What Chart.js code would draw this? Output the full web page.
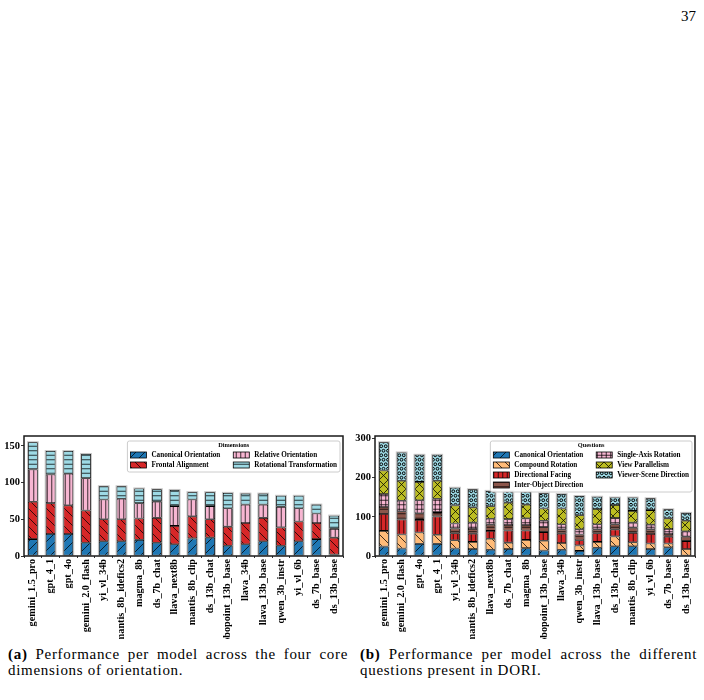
<!DOCTYPE html>
<html><head><meta charset="utf-8">
<script src="https://cdn.jsdelivr.net/npm/chart.js@4.4.1/dist/chart.umd.min.js"></script>
<style>
html,body{margin:0;padding:0;background:#fff;width:704px;height:700px;overflow:hidden;position:relative;}
#pg{position:absolute;left:681px;top:7px;font:15px 'Liberation Serif',serif;line-height:18px;color:#000;}
.wrap{position:absolute;}
.cap{position:absolute;font:15px 'Liberation Serif',serif;letter-spacing:0.7px;line-height:16px;color:#000;}
.cap .l1{text-align:justify;text-align-last:justify;}
</style></head>
<body>
<div id="pg">37</div>
<div class="wrap" style="left:0;top:426px;width:350px;height:213px"><canvas id="ca"></canvas></div>
<div class="wrap" style="left:352px;top:426px;width:350px;height:213px"><canvas id="cb"></canvas></div>
<div class="cap" style="left:8px;top:646px;width:340px"><div class="l1"><b>(a)</b> Performance per model across the four core</div><div>dimensions of orientation.</div></div>
<div class="cap" style="left:360px;top:646px;width:337px"><div class="l1"><b>(b)</b> Performance per model across the different</div><div>questions present in DORI.</div></div>
<script>
// ---------- data: chart (a) ----------
const modelsA = ['gemini_1.5_pro','gpt_4_1','gpt_4o','gemini_2.0_flash','yi_vl_34b','mantis_8b_idefics2','magma_8b','ds_7b_chat','llava_next8b','mantis_8b_clip','ds_13b_chat','robopoint_13b_base','llava_34b','llava_13b_base','qwen_3b_instr','yi_vl_6b','ds_7b_base','ds_13b_base'];
const canonicalA  = [23,30,30,18,20,20,22,18,16,24,25,14,16,20,14,20,23,2];
const frontalA    = [51,42,39,44,30,30,29,34,25,30,25,26,29,32,25,27,22,23];
const relativeA   = [44,39,43,44,27,28,21,22,27,23,18,25,25,18,28,18,13,12];
const rotationalA = [37,32,31,33,18,17,20,17,22,10,19,21,15,15,15,17,12,18];
const seriesNamesA = ['Canonical Orientation','Frontal Alignment','Relative Orientation','Rotational Transformation'];
const yTicksA = [0,50,100,150];

// ---------- data: chart (b) ----------
const modelsB = ['gemini_1.5_pro','gemini_2.0_flash','gpt_4o','gpt_4_1','yi_vl_34b','mantis_8b_idefics2','llava_next8b','ds_7b_chat','magma_8b','robopoint_13b_base','llava_34b','qwen_3b_instr','llava_13b_base','ds_13b_chat','mantis_8b_clip','yi_vl_6b','ds_7b_base','ds_13b_base'];
const canonicalB    = [24,19,31,31,19,18,16,18,20,14,16,13,21,25,25,18,22,1];
const compoundB     = [40,36,29,23,21,18,28,16,21,25,17,14,15,25,10,14,10,17];
const directionalB  = [43,38,32,47,18,21,20,31,24,22,24,13,22,18,24,24,17,20];
const interObjectB  = [18,21,17,11,12,12,16,14,14,13,11,15,10,13,13,12,7,11];
const singleAxisB   = [33,27,33,34,13,16,15,15,17,16,13,13,13,16,13,12,13,14];
const viewParB      = [60,51,47,46,46,39,32,42,35,31,40,36,39,33,30,37,27,27];
const viewerSceneB  = [72,72,69,66,45,46,39,30,33,39,37,49,31,19,34,30,23,20];
const seriesNamesB = ['Canonical Orientation','Compound Rotation','Directional Facing','Inter-Object Direction','Single-Axis Rotation','View Parallelism','Viewer-Scene Direction'];
const yTicksB = [0,100,200,300];

// ---------- styling ----------
const FONT = "'Liberation Serif','Times New Roman',serif";
function hatch(color, kind){
  const s = 9;
  const c = document.createElement('canvas'); c.width = s; c.height = s;
  const g = c.getContext('2d');
  g.fillStyle = color; g.fillRect(0,0,s,s);
  g.strokeStyle = 'rgba(0,0,0,0.95)'; g.lineWidth = 0.8;
  g.beginPath();
  const n = ch => kind.split(ch).length - 1;
  const nf = n('/') + n('x'), nb = n('\\') + n('x'), nv = n('|') + n('+'), nh = n('-') + n('+');
  for (let j=0;j<nf;j++) for (let k=-1;k<=1;k++){ const o=k*s+j*s/nf; g.moveTo(o,s); g.lineTo(o+s,0); }
  for (let j=0;j<nb;j++) for (let k=-1;k<=1;k++){ const o=k*s+j*s/nb; g.moveTo(o,0); g.lineTo(o+s,s); }
  for (let j=0;j<nv;j++){ const x=(j+0.5)*s/nv; g.moveTo(x,0); g.lineTo(x,s); }
  for (let j=0;j<nh;j++){ const y=(j+0.5)*s/nh; g.moveTo(0,y); g.lineTo(s,y); }
  g.stroke();
  if (kind.includes('o')){
    g.lineWidth = 1.0; g.strokeStyle = '#000';
    const r = 1.4;
    const P = [[s/4,s/4],[3*s/4,s/4],[0,3*s/4],[s/2,3*s/4],[s,3*s/4]];
    for (const [x,y] of P){ g.beginPath(); g.arc(x,y,r,0,Math.PI*2); g.stroke(); }
  }
  return g.createPattern(c,'repeat');
}
const BLUE='#1f77b4', RED='#d62728', PINK='#f7b6d2', CYAN='#9edae5', ORANGE='#ffbb78', BROWN='#8c564b', OLIVE='#bcbd22';

function ds(label, data, color, kind){
  return {label, data, backgroundColor: hatch(color, kind), borderColor:'#000', borderWidth:0.8, borderSkipped:false,
          barPercentage:0.55, categoryPercentage:1.0};
}

// frame + halo + custom legend
const framePlugin = {
  id:'frame',
  beforeDatasetsDraw(chart){
    const ctx = chart.ctx; const n = chart.data.labels.length;
    ctx.save(); ctx.fillStyle = '#c4c4c4';
    for (let i=0;i<n;i++){
      let top=Infinity, bot=-Infinity, x=0, w=0;
      chart.data.datasets.forEach((d,di)=>{
        const el = chart.getDatasetMeta(di).data[i];
        if(!el) return;
        top=Math.min(top, el.y, el.base); bot=Math.max(bot, el.y, el.base); x=el.x; w=el.width;
      });
      ctx.fillRect(x-w/2-1, top-1, w+2, bot-top+1);
    }
    ctx.restore();
  },
  afterDraw(chart){
    const a = chart.chartArea, ctx = chart.ctx;
    ctx.save();
    ctx.strokeStyle = '#1a1a1a'; ctx.lineWidth = 1.5;
    ctx.strokeRect(a.left, a.top, a.right-a.left, a.bottom-a.top);
    // legend
    const L = chart.options.plugins.hatchLegend;
    const items = chart.data.datasets;
    ctx.font = 'bold 7.2px ' + FONT;
    const colW = L.columns.map(col => Math.max(...col.map(i => ctx.measureText(items[i].label).width)));
    const pad=3, sw=16, gap=5, cgap=13;
    let W = pad*2 + colW.reduce((s,w)=>s+sw+gap+w,0) + cgap*(L.columns.length-1);
    const rows = Math.max(...L.columns.map(c=>c.length));
    const H = 14 + 10*(rows-1) + 7;
    const x0 = a.right - 3 - W, y0 = a.top + 5;
    ctx.fillStyle = 'rgba(255,255,255,0.85)'; ctx.strokeStyle = '#cccccc'; ctx.lineWidth = 1;
    ctx.beginPath(); ctx.roundRect(x0, y0, W, H, 2); ctx.fill(); ctx.stroke();
    ctx.fillStyle = '#000'; ctx.textAlign='center'; ctx.textBaseline='middle';
    ctx.font = 'bold 6.3px ' + FONT;
    ctx.fillText(L.title, x0 + W/2, y0 + 4.5);
    ctx.font = 'bold 7.2px ' + FONT; ctx.textAlign='left';
    let cx = x0 + pad;
    L.columns.forEach((col,ci)=>{
      col.forEach((idx,ri)=>{
        const y = y0 + 14 + 10*ri;
        ctx.fillStyle = items[idx].backgroundColor;
        ctx.fillRect(cx, y-3, sw, 6);
        ctx.strokeStyle='#000'; ctx.lineWidth=0.8; ctx.strokeRect(cx, y-3, sw, 6);
        ctx.fillStyle='#000'; ctx.fillText(items[idx].label, cx+sw+gap, y+0.5);
      });
      cx += sw + gap + colW[ci] + cgap;
    });
    ctx.restore();
  }
};

function makeChart(id, labels, datasets, yMax, yTicks, yWidth, legendTitle, columns){
  return new Chart(document.getElementById(id), {
    type:'bar',
    data:{labels, datasets},
    plugins:[framePlugin],
    options:{
      responsive:true, maintainAspectRatio:false, animation:false,
      layout:{padding:{left:0,right:7,top:10,bottom:0}},
      plugins:{legend:{display:false}, tooltip:{enabled:false},
        hatchLegend:{title:legendTitle, columns}},
      scales:{
        x:{stacked:true, offset:true,
          grid:{display:true, drawOnChartArea:false, drawTicks:true, tickLength:2, color:'#000', lineWidth:0.8},
          border:{display:false},
          ticks:{autoSkip:false, minRotation:90, maxRotation:90, padding:1, color:'#000', font:{family:FONT, size:10.2, weight:'bold'}},
          afterFit(s){ s.height = 83; }
        },
        y:{stacked:true, min:0, max:yMax,
          afterBuildTicks(s){ s.ticks = yTicks.map(v=>({value:v})); },
          grid:{display:true, drawOnChartArea:false, drawTicks:true, tickLength:3, color:'#000', lineWidth:0.8},
          border:{display:false},
          ticks:{padding:1, color:'#000', font:{family:FONT, size:10.5, weight:'bold'}},
          afterFit(s){ s.width = yWidth; }
        }
      }
    }
  });
}

makeChart('ca', modelsA, [
  ds(seriesNamesA[0], canonicalA, BLUE, '/'),
  ds(seriesNamesA[1], frontalA, RED, '\\'),
  ds(seriesNamesA[2], relativeA, PINK, '||'),
  ds(seriesNamesA[3], rotationalA, CYAN, '--'),
], 163.5, yTicksA, 24, 'Dimensions', [[0,1],[2,3]]);

makeChart('cb', modelsB, [
  ds(seriesNamesB[0], canonicalB, BLUE, '/'),
  ds(seriesNamesB[1], compoundB, ORANGE, '\\'),
  ds(seriesNamesB[2], directionalB, RED, '||'),
  ds(seriesNamesB[3], interObjectB, BROWN, '--'),
  ds(seriesNamesB[4], singleAxisB, PINK, '++'),
  ds(seriesNamesB[5], viewParB, OLIVE, 'x'),
  ds(seriesNamesB[6], viewerSceneB, CYAN, 'o'),
], 306, yTicksB, 23, 'Questions', [[0,1,2,3],[4,5,6]]);
</script>
</body></html>
